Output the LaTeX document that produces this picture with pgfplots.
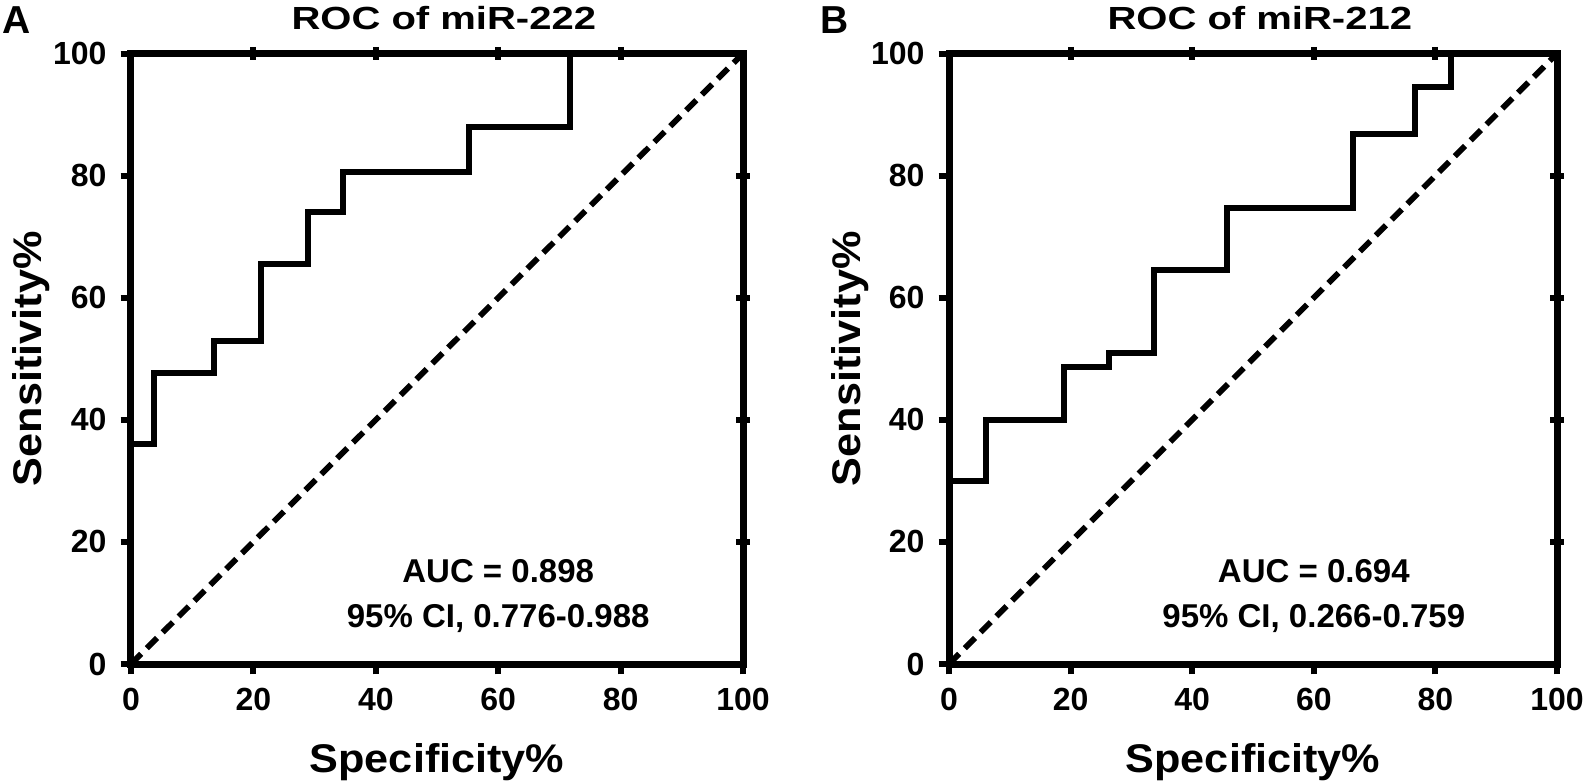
\documentclass[border=0pt]{standalone}
\usepackage{pgfplots}
\pgfplotsset{compat=1.18}
\usepackage{fontspec}
\setmainfont{Liberation Sans}
\pgfplotstableread{
x y
0 36
3.8 36
3.8 47.7
13.5 47.7
13.5 52.9
21.3 52.9
21.3 65.6
29.0 65.6
29.0 74.0
34.6 74.0
34.6 80.6
55.2 80.6
55.2 87.9
71.8 87.9
71.8 100
}\rocA
\pgfplotstableread{
x y
0 30
6.1 30
6.1 40
18.9 40
18.9 48.7
26.3 48.7
26.3 50.9
33.7 50.9
33.7 64.5
45.7 64.5
45.7 74.7
66.5 74.7
66.5 86.8
76.6 86.8
76.6 94.6
82.5 94.6
82.5 100
}\rocB
\pgfplotsset{
  rocaxis/.style={
    scale only axis, height=152.6pt,
    xmin=0, xmax=100, ymin=0, ymax=100,
    xtick={0,20,...,100}, ytick={0,20,...,100},
    tick align=outside, xtick pos=left, ytick pos=left,
    major tick length=2.6pt,
    tick style={line width=1.5pt, black},
    axis line style={line width=1.75pt, black},
    clip=false,
    tick label style={font=\bfseries\fontsize{8}{9.6}\selectfont},
    /pgf/number format/assume math mode=true,
    xlabel={\scalebox{1.08}[1]{Specificity\%}}, ylabel={\scalebox{1.08}[1]{Sensitivity\%}},
    xlabel style={at={(axis description cs:0.5,0)}, anchor=base, yshift=-27pt,
      font=\bfseries\fontsize{10}{12}\selectfont},
    ylabel style={at={(axis description cs:0,0.5)}, anchor=base, yshift=22.25pt,
      font=\bfseries\fontsize{10}{12}\selectfont},
    title style={at={(0.5,1)}, anchor=base, xshift=1.7pt,
      font=\bfseries\fontsize{8}{10}\selectfont},
  },
  mirror/.style={
    scale only axis, height=152.6pt,
    xmin=0, xmax=100, ymin=0, ymax=100,
    axis line style={draw=none},
    xtick={20,40,60,80}, ytick={20,40,60,80},
    xticklabels={}, yticklabels={},
    xtick pos=right, ytick pos=right, tick align=center,
    major tick length=3.4pt,
    tick style={line width=1.5pt, black},
  },
}
\tikzset{txt/.style={font=\bfseries\fontsize{8.25}{10}\selectfont, anchor=base}}
\begin{document}
\begin{tikzpicture}
\path[use as bounding box] (-32.75pt,-29pt) rectangle (365.25pt,166pt);
% Panel A
\begin{axis}[rocaxis, at={(0pt,0pt)}, width=153pt, title={\scalebox{1.25}[1]{ROC of miR-222}}]
\addplot[line width=1.5pt, line join=miter, black] table[x=x,y=y] {\rocA};
\addplot[line width=1.45pt, dash pattern=on 3.6pt off 2pt, black] coordinates {(0,0) (100,100)};
\node[txt] at (axis cs:60,13.3) {AUC = 0.898};
\node[txt] at (axis cs:60,5.9) {95\% CI, 0.776-0.988};
\end{axis}
\begin{axis}[mirror, at={(0pt,0pt)}, width=153pt]
\end{axis}
% Panel B
\begin{axis}[rocaxis, at={(204.5pt,0pt)}, width=152pt, title={\scalebox{1.25}[1]{ROC of miR-212}}]
\addplot[line width=1.5pt, line join=miter, black] table[x=x,y=y] {\rocB};
\addplot[line width=1.45pt, dash pattern=on 3.6pt off 2pt, black] coordinates {(0,0) (100,100)};
\node[txt] at (axis cs:60,13.3) {AUC = 0.694};
\node[txt] at (axis cs:60,5.9) {95\% CI, 0.266-0.759};
\end{axis}
\begin{axis}[mirror, at={(204.5pt,0pt)}, width=152pt]
\end{axis}
\node[anchor=base west, inner sep=0pt, font=\bfseries\fontsize{9.75}{11}\selectfont] at (-32.25pt,157.5pt) {A};
\node[anchor=base west, inner sep=0pt, font=\bfseries\fontsize{9.75}{11}\selectfont] at (172.25pt,157.5pt) {B};
\end{tikzpicture}
\end{document}
